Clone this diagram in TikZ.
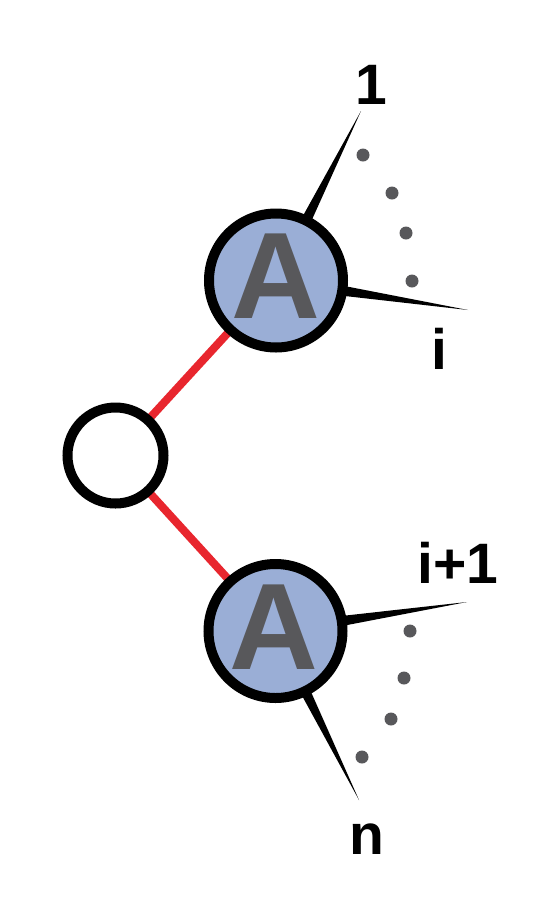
\documentclass[tikz,border=0pt]{standalone}
\usepackage{fontspec}
\setmainfont{Liberation Sans}
\usetikzlibrary{calc,backgrounds}
\definecolor{nodeblue}{RGB}{154,174,214}
\definecolor{darkgraytxt}{RGB}{88,88,91}
\definecolor{edgered}{RGB}{232,38,46}
\begin{document}
\begin{tikzpicture}[x=1pt,y=-1pt,
  anode/.style={circle,draw=black,line width=10pt,fill=nodeblue,minimum size=134pt,inner sep=0pt},
  rootnode/.style={circle,draw=black,line width=10pt,fill=white,minimum size=96pt,inner sep=0pt},
  atext/.style={text=darkgraytxt,font=\fontsize{123}{123}\selectfont\bfseries,inner sep=0pt},
  lbl/.style={font=\fontsize{57}{60}\selectfont\bfseries,inner sep=0pt},
  dotn/.style={circle,fill=darkgraytxt,minimum size=13pt,inner sep=0pt},
  rededge/.style={edgered,line width=8pt},
  spike/.style={fill=black}]
\useasboundingbox (0,0) rectangle (550,914);
% nodes
\node[rootnode] (root) at (115.5,455.5) {};
\node[anode] (A1) at (276,280.5) {};
\node[anode] (A2) at (275.5,631) {};
\node[atext] (A1t) at ([yshift=4pt]A1.center) {A};
\node[atext] (A2t) at ([yshift=4pt,xshift=-2pt]A2.center) {A};
% spike tips
\coordinate (t1) at (361,111);
\coordinate (t2) at (468,310);
\coordinate (t3) at (467,602);
\coordinate (t4) at (359,800);
\coordinate (b1) at ($(A1.center)!67pt!(t1)$);
\coordinate (b2) at ($(A1.center)!67pt!(t2)$);
\coordinate (b3) at ($(A2.center)!67pt!(t3)$);
\coordinate (b4) at ($(A2.center)!67pt!(t4)$);
\begin{scope}[on background layer]
  \fill[white] (0,0) rectangle (550,914);
  \draw[rededge] (root.center) -- (A1.center);
  \draw[rededge] (root.center) -- (A2.center);
  \fill[spike] ($(b1)!5pt!90:(t1)$) -- ($(b1)!5pt!-90:(t1)$) -- (t1) -- cycle;
  \fill[spike] ($(b2)!5pt!90:(t2)$) -- ($(b2)!5pt!-90:(t2)$) -- (t2) -- cycle;
  \fill[spike] ($(b3)!5pt!90:(t3)$) -- ($(b3)!5pt!-90:(t3)$) -- (t3) -- cycle;
  \fill[spike] ($(b4)!5pt!90:(t4)$) -- ($(b4)!5pt!-90:(t4)$) -- (t4) -- cycle;
\end{scope}
% dots
\node[dotn] (d1) at (363,155) {};
\node[dotn] (d2) at (392,193) {};
\node[dotn] (d3) at (406,233) {};
\node[dotn] (d4) at (412,281) {};
\node[dotn] (d5) at (410,631) {};
\node[dotn] (d6) at (404,678) {};
\node[dotn] (d7) at (391,719) {};
\node[dotn] (d8) at (362,757) {};
% labels
\node[lbl] (l1) at (371,85) {1};
\node[lbl] (li) at (439,349) {i};
\node[lbl] (li1) at (458,563) {i+1};
\node[lbl] (ln) at (367,839) {n};
\end{tikzpicture}
\end{document}
